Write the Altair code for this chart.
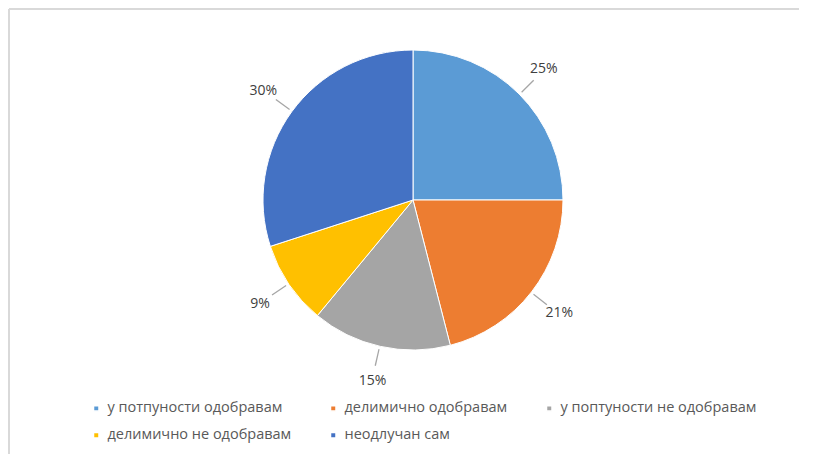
import altair as alt
import pandas as pd

categories = ["у потпуности одобравам", "делимично одобравам", "у поптуности не одобравам",
              "делимично не одобравам", "неодлучан сам"]
values = [25, 21, 15, 9, 30]
labels = ["25%", "21%", "15%", "9%", "30%"]
colors = ["#5B9BD5", "#ED7D31", "#A5A5A5", "#FFC000", "#4472C4"]

df = pd.DataFrame({"cat": categories, "value": values, "label": labels,
                   "idx": list(range(len(categories)))})

W, H = 790, 446
CX, CY, R = 404, 192, 150
FONT = "Open Sans"

base = alt.Chart(df).encode(
    x=alt.value(CX), y=alt.value(CY),
)

pie = base.mark_arc(radius=R, stroke="white", strokeWidth=1).encode(
    theta=alt.Theta("value:Q", stack=True),
    order=alt.Order("idx:Q"),
    color=alt.Color("cat:N", scale=alt.Scale(domain=categories, range=colors),
                    sort=categories,
                    legend=alt.Legend(title=None, orient="none", legendX=80, legendY=393,
                                      direction="horizontal", columns=3,
                                      symbolType="square", symbolSize=30,
                                      labelFont=FONT, labelFontSize=14.5, labelColor="#595959",
                                      columnPadding=34, rowPadding=12, labelLimit=300)),
)

leaders = base.transform_window(
    cum="sum(value)", sort=[alt.SortField("idx")]
).transform_calculate(
    mid="(datum.cum - datum.value/2) / 100 * 2 * PI",
).transform_calculate(
    mid2="datum.mid + 0.008"
).mark_arc(radius=R + 3, radius2=R + 20, color="#A6A6A6").encode(
    theta=alt.Theta("mid:Q", scale=None, stack=None),
    theta2="mid2:Q",
)

text = base.mark_text(radius=R + 35, font=FONT, fontSize=14, color="#404040").encode(
    theta=alt.Theta("value:Q", stack=True),
    order=alt.Order("idx:Q"),
    text="label:N",
)

border = pd.DataFrame({"k": [0]})
left_line = alt.Chart(border).mark_rule(color="#D9D9D9", strokeWidth=2).encode(
    x=alt.value(0), y=alt.value(1), y2=alt.value(H))
top_line = alt.Chart(border).mark_rule(color="#D9D9D9", strokeWidth=2).encode(
    x=alt.value(0), x2=alt.value(W), y=alt.value(1))

chart = alt.layer(left_line, top_line, pie, leaders, text).properties(
    width=W, height=H, padding=0
).configure_view(stroke=None)

chart.save("out.html", embed_options={"renderer": "svg", "actions": False})
